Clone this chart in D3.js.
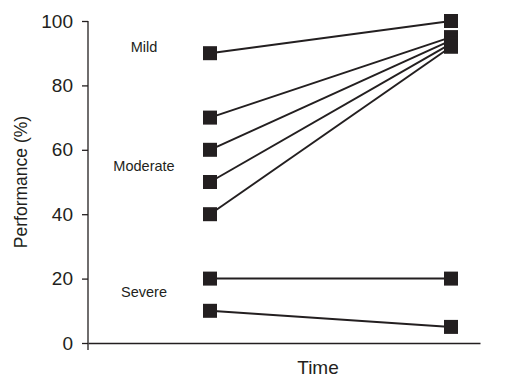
<!DOCTYPE html>
<html>
<head>
<meta charset="utf-8">
<script src="https://cdn.jsdelivr.net/npm/d3@7"></script>
<style>
  body { margin: 0; background: #fff; }
  text { font-family: "Liberation Sans", Arial, sans-serif; fill: #231f20; }
</style>
</head>
<body>
<div id="chart"></div>
<script>
// data
const timepoints = ["Before", "After"];
const before = [90, 70, 60, 50, 40, 20, 10];
const after = [100, 95, 94, 93, 92, 20, 5];
const groups = ["Mild", "Moderate", "Severe"];
const groupAt = [92, 55, 16];
const yTicks = [0, 20, 40, 60, 80, 100];

const width = 505, height = 377;
const ink = "#231f20";

const svg = d3.select("#chart").append("svg")
  .attr("width", width)
  .attr("height", height);

// scales
const x = d3.scalePoint().domain(timepoints).range([210, 451]);
const y = d3.scaleLinear().domain([0, 100]).range([343, 21]);

// y axis
const yAxis = svg.append("g")
  .attr("transform", "translate(88,0)")
  .call(d3.axisLeft(y).tickValues(yTicks).tickSize(6).tickSizeOuter(0).tickPadding(9));
yAxis.select(".domain").attr("d", `M0,${y(100)}V${y(0) + 7}`);
yAxis.selectAll("line, path").attr("stroke", ink).attr("stroke-width", 1.3);
yAxis.selectAll("text")
  .style("font-family", "'Liberation Sans', Arial, sans-serif")
  .style("font-size", "19px")
  .attr("fill", ink);

// x axis line (no ticks)
const xAxis = svg.append("g")
  .attr("transform", `translate(0,${y(0)})`)
  .call(d3.axisBottom(d3.scaleLinear().range([88, 480])).tickValues([]).tickSizeOuter(0));
xAxis.select(".domain").attr("stroke", ink).attr("stroke-width", 1.3);

// axis titles
svg.append("text")
  .attr("transform", `translate(27,${(y(0) + y(100)) / 2}) rotate(-90)`)
  .attr("text-anchor", "middle")
  .style("font-size", "17.5px")
  .text("Performance (%)");

svg.append("text")
  .attr("x", 318)
  .attr("y", 374)
  .attr("text-anchor", "middle")
  .style("font-size", "19px")
  .text("Time");

// connecting lines
const pairs = before.map((b, i) => [b, after[i]]);
svg.append("g").selectAll("line")
  .data(pairs)
  .join("line")
  .attr("x1", x(timepoints[0]))
  .attr("y1", d => y(d[0]))
  .attr("x2", x(timepoints[1]))
  .attr("y2", d => y(d[1]))
  .attr("stroke", ink)
  .attr("stroke-width", 2);

// square markers
const sz = 14;
const pts = [];
pairs.forEach(d => {
  pts.push([timepoints[0], d[0]]);
  pts.push([timepoints[1], d[1]]);
});
svg.append("g").selectAll("rect")
  .data(pts)
  .join("rect")
  .attr("x", d => x(d[0]) - sz / 2)
  .attr("y", d => y(d[1]) - sz / 2)
  .attr("width", sz)
  .attr("height", sz)
  .attr("fill", ink);

// group labels
svg.append("g").selectAll("text")
  .data(groups)
  .join("text")
  .attr("x", 144)
  .attr("y", (d, i) => y(groupAt[i]))
  .attr("dy", "0.35em")
  .attr("text-anchor", "middle")
  .style("font-size", "14.5px")
  .text(d => d);
</script>
</body>
</html>
